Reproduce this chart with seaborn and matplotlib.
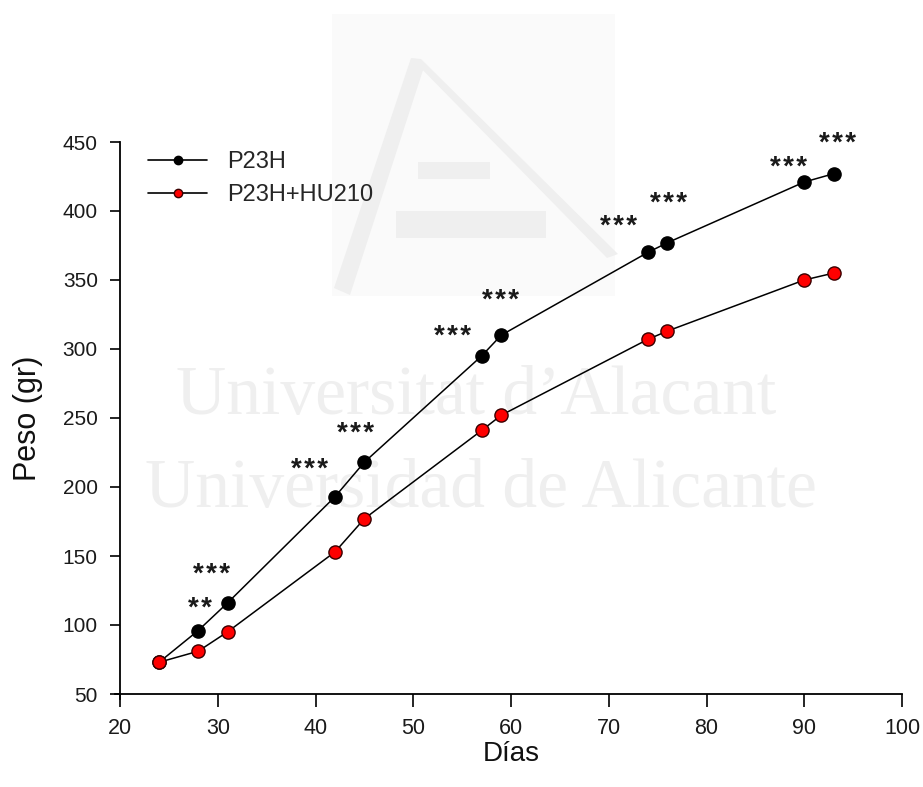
import matplotlib
matplotlib.use("Agg")
import matplotlib.pyplot as plt
import numpy as np
import pandas as pd
import seaborn as sns
from matplotlib.lines import Line2D
from matplotlib.patches import Polygon, Rectangle

# Body weight follow-up (days of age vs grams)
dias = [24, 28, 31, 42, 45, 57, 59, 74, 76, 90, 93]
peso_p23h = [73, 96, 116, 193, 218, 295, 310, 370, 377, 421, 427]
peso_p23h_hu210 = [73, 81, 95, 153, 177, 241, 252, 307, 313, 350, 355]
grupos = ["P23H", "P23H+HU210"]

# Significance marks placed over the P23H points
sig_dias = [28, 31, 42, 45, 57, 59, 74, 76, 90, 93]
sig_labels = ["**", "***", "***", "***", "***", "***", "***", "***", "***", "***"]
# label offsets from each point, in pixels (dx right, dy up)
sig_offsets = [(2, 31), (-16, 37), (-26, 36), (-9, 37), (-29, 28),
               (-1, 43), (-29, 34), (1, 48), (-16, 23), (4, 39)]

sns.set_theme(style="ticks")
plt.rcParams["font.family"] = ["Liberation Sans", "DejaVu Sans"]

W, H = 923, 787
fig = plt.figure(figsize=(W / 100, H / 100), dpi=100)
fig.patch.set_facecolor("white")


def fx(px):
    return px / W


def fy(py):
    return 1 - py / H


# faint institutional watermark behind the plot
wm = "#efefef"
fig.add_artist(Rectangle((fx(332), fy(296)), fx(615) - fx(332), fy(14) - fy(296),
                         transform=fig.transFigure, color="#fafafa", lw=0, zorder=-3))
for poly in ([(411, 58), (425, 64), (350, 295), (334, 288)],
             [(411, 58), (421, 59), (618, 254), (607, 258)],
             [(418, 162), (490, 162), (490, 179), (418, 179)],
             [(396, 211), (546, 211), (546, 238), (396, 238)]):
    fig.add_artist(Polygon([(fx(a), fy(b)) for a, b in poly], closed=True,
                           transform=fig.transFigure, color=wm, lw=0, zorder=-2))
fig.text(fx(476), fy(414), "Universitat d\u2019Alacant", ha="center", va="baseline",
         fontsize=50, family="Liberation Serif", color=wm, zorder=-1)
fig.text(fx(481), fy(507), "Universidad de Alicante", ha="center", va="baseline",
         fontsize=50, family="Liberation Serif", color=wm, zorder=-1)

ax = fig.add_axes([fx(120), fy(694), fx(902) - fx(120), fy(142) - fy(694)])
ax.set_facecolor("none")

df = pd.DataFrame({
    "Días": dias * 2,
    "Peso": peso_p23h + peso_p23h_hu210,
    "Grupo": [grupos[0]] * len(dias) + [grupos[1]] * len(dias),
})

styles = {grupos[0]: ("black", "black"), grupos[1]: ("#ff0000", "#3a0000")}
for g in grupos:
    face, edge = styles[g]
    sns.lineplot(data=df[df["Grupo"] == g], x="Días", y="Peso", ax=ax,
                 color="black", lw=1.1, marker="o", markersize=9.5,
                 markerfacecolor=face, markeredgecolor=edge, markeredgewidth=1.0,
                 errorbar=None, legend=False, zorder=3)

# significance asterisks, slightly spaced apart
px_to_pt = 72 / 100
star_size = 20
star_lift = 16  # px between baseline and the centre of an asterisk
for d, lab, (dx, dy) in zip(sig_dias, sig_labels, sig_offsets):
    yv = peso_p23h[dias.index(d)]
    ax.annotate("\u200a".join(lab), xy=(d, yv),
                xytext=(dx * px_to_pt, (dy - star_lift) * px_to_pt),
                textcoords="offset points", ha="center", va="baseline",
                fontsize=star_size, fontweight="bold", color="#1a1a1a",
                annotation_clip=False)

ax.set_xlim(20, 100)
ax.set_ylim(50, 450)
ax.set_xticks(np.arange(20, 101, 10))
ax.set_yticks(np.arange(50, 451, 50))

for s in ("top", "right"):
    ax.spines[s].set_visible(False)
for s in ("left", "bottom"):
    ax.spines[s].set_color("black")
    ax.spines[s].set_linewidth(1.3)
ax.spines["left"].set_bounds(46.5, 450)
ax.spines["bottom"].set_bounds(19.5, 100)

ax.tick_params(axis="x", direction="out", length=9, width=1.2, color="black",
               labelsize=15.5, pad=8, labelcolor="#1a1a1a")
ax.tick_params(axis="y", direction="out", length=7, width=1.2, color="black",
               labelsize=15, pad=9, labelcolor="#1a1a1a")

ax.set_xlabel("Días", fontsize=20, labelpad=2, color="#111111")
ax.set_ylabel("Peso (gr)", fontsize=22, labelpad=14, color="#111111")

handles = [
    Line2D([0], [0], color="black", lw=1.2, marker="o", markersize=6,
           markerfacecolor=styles[g][0], markeredgecolor=styles[g][1])
    for g in grupos
]
ax.legend(handles, grupos, loc="upper left", bbox_to_anchor=(0.0358, 0.983),
          frameon=False, fontsize=17, handlelength=2.5, handletextpad=0.85,
          labelspacing=0.45, borderpad=0, borderaxespad=0)

fig.savefig("out.png", dpi=100)
